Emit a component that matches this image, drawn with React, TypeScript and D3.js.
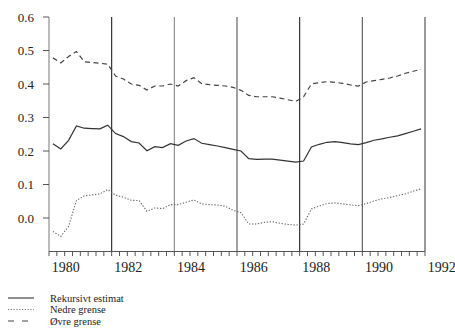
import React from 'react';
import * as d3 from 'd3';

// quarterly observations, 1979K3 - 1991K2
const quarters = [
  '1979K3', '1979K4',
  '1980K1', '1980K2', '1980K3', '1980K4',
  '1981K1', '1981K2', '1981K3', '1981K4',
  '1982K1', '1982K2', '1982K3', '1982K4',
  '1983K1', '1983K2', '1983K3', '1983K4',
  '1984K1', '1984K2', '1984K3', '1984K4',
  '1985K1', '1985K2', '1985K3', '1985K4',
  '1986K1', '1986K2', '1986K3', '1986K4',
  '1987K1', '1987K2', '1987K3', '1987K4',
  '1988K1', '1988K2', '1988K3', '1988K4',
  '1989K1', '1989K2', '1989K3', '1989K4',
  '1990K1', '1990K2', '1990K3', '1990K4',
  '1991K1', '1991K2',
];

const estimat = [
  0.222, 0.206, 0.232, 0.275, 0.268, 0.267, 0.266, 0.277, 0.252, 0.243, 0.228, 0.224,
  0.201, 0.213, 0.210, 0.222, 0.217, 0.230, 0.237, 0.223, 0.219, 0.215, 0.210, 0.205,
  0.200, 0.177, 0.175, 0.176, 0.176, 0.173, 0.170, 0.167, 0.170, 0.212, 0.220, 0.226,
  0.228, 0.225, 0.221, 0.219, 0.225, 0.232, 0.236, 0.241, 0.245, 0.252, 0.259, 0.266,
];

const nedre = [
  -0.040, -0.055, -0.025, 0.052, 0.066, 0.069, 0.072, 0.085, 0.068, 0.062, 0.053, 0.052,
  0.020, 0.030, 0.028, 0.040, 0.040, 0.047, 0.054, 0.042, 0.040, 0.039, 0.035, 0.023,
  0.016, -0.018, -0.018, -0.013, -0.011, -0.016, -0.019, -0.021, -0.018, 0.027, 0.036, 0.043,
  0.045, 0.042, 0.039, 0.037, 0.043, 0.051, 0.057, 0.061, 0.067, 0.072, 0.080, 0.087,
];

const ovre = [
  0.478, 0.463, 0.482, 0.497, 0.466, 0.464, 0.462, 0.459, 0.424, 0.415, 0.400, 0.396,
  0.382, 0.394, 0.394, 0.400, 0.394, 0.410, 0.419, 0.401, 0.398, 0.396, 0.394, 0.390,
  0.381, 0.366, 0.362, 0.362, 0.362, 0.358, 0.353, 0.348, 0.362, 0.400, 0.404, 0.407,
  0.405, 0.402, 0.397, 0.394, 0.406, 0.410, 0.414, 0.418, 0.424, 0.432, 0.438, 0.444,
];

const yearLabels = [1980, 1982, 1984, 1986, 1988, 1990, 1992];
const yTicks = [0.0, 0.1, 0.2, 0.3, 0.4, 0.5, 0.6];
// re-estimation points (mid-year)
const breaks = [1981.5, 1983.5, 1985.5, 1987.5, 1989.5, 1991.5];
const breakColors = ['#222', '#888', '#555', '#222', '#555', '#444'];

const legend = [
  { label: 'Rekursivt estimat', dash: null, color: '#333', width: 1.1 },
  { label: 'Nedre grense', dash: '1.2,1.6', color: '#777', width: 1 },
  { label: 'Øvre grense', dash: '6,8', color: '#444', width: 1.1 },
];

const W = 455;
const H = 335;
const textStyle = { fontFamily: "'Liberation Serif', 'DejaVu Serif', 'Times New Roman', serif" };

const toTime = (q: string) => +q.slice(0, 4) + (+q.slice(5) - 0.5) / 4;

export default function App() {
  const x = d3.scaleLinear().domain([1979.5, 1991.5]).range([49, 425]);
  const y = d3.scaleLinear().domain([-0.1, 0.6]).range([251.5, 17]);
  const times = quarters.map(toTime);

  const line = (vals: number[]) =>
    d3.line<number>()
      .x((_, i) => x(times[i]))
      .y(d => y(d))(vals) || '';

  // quarterly tick marks on the time axis
  const qTicks = d3.range(0, 49).map(k => 1979.5 + k * 0.25);

  return (
    <svg width={W} height={H} style={{ position: 'absolute', left: 0, top: 0, background: '#fff' }}>
      {/* vertical lines at re-estimation points */}
      {breaks.map((b, i) => (
        <line key={b} x1={x(b)} x2={x(b)} y1={y(0.6)} y2={y(-0.1)}
          stroke={breakColors[i]} strokeWidth={1.1} />
      ))}

      {/* y axis */}
      <line x1={x(1979.5)} x2={x(1979.5)} y1={y(0.6)} y2={y(-0.1)} stroke="#777" strokeWidth={1} />
      {yTicks.map(t => (
        <g key={t}>
          <line x1={x(1979.5) - 6} x2={x(1979.5)} y1={y(t)} y2={y(t)} stroke="#555" />
          <text x={34} y={y(t)} dy="0.35em" textAnchor="end" style={textStyle} fontSize={13} fill="#222">
            {d3.format('.1f')(t)}
          </text>
        </g>
      ))}

      {/* x axis */}
      <line x1={x(1979.5)} x2={x(1991.5)} y1={y(-0.1)} y2={y(-0.1)} stroke="#555" />
      {qTicks.map(t => (
        <line key={t} x1={x(t)} x2={x(t)} y1={y(-0.1)} y2={y(-0.1) + 4.5} stroke="#444" strokeWidth={0.9} />
      ))}
      {yearLabels.map(yr => (
        <text key={yr} x={x(yr) + 1} y={272} textAnchor="middle" style={textStyle} fontSize={14} fill="#222">
          {yr}
        </text>
      ))}

      {/* series */}
      <path d={line(ovre)} fill="none" stroke="#444" strokeWidth={1.2} strokeDasharray="5,3.5" />
      <path d={line(estimat)} fill="none" stroke="#333" strokeWidth={1.2} />
      <path d={line(nedre)} fill="none" stroke="#666" strokeWidth={1.1} strokeDasharray="1.3,1.7" />

      {/* legend */}
      {legend.map((l, i) => (
        <g key={l.label} transform={`translate(0, ${298 + i * 11.5})`}>
          <line x1={8} x2={34} y1={0} y2={0} stroke={l.color} strokeWidth={l.width}
            strokeDasharray={l.dash || undefined} />
          <text x={50} y={3.5} style={textStyle} fontSize={10.5} fill="#222">{l.label}</text>
        </g>
      ))}
    </svg>
  );
}
